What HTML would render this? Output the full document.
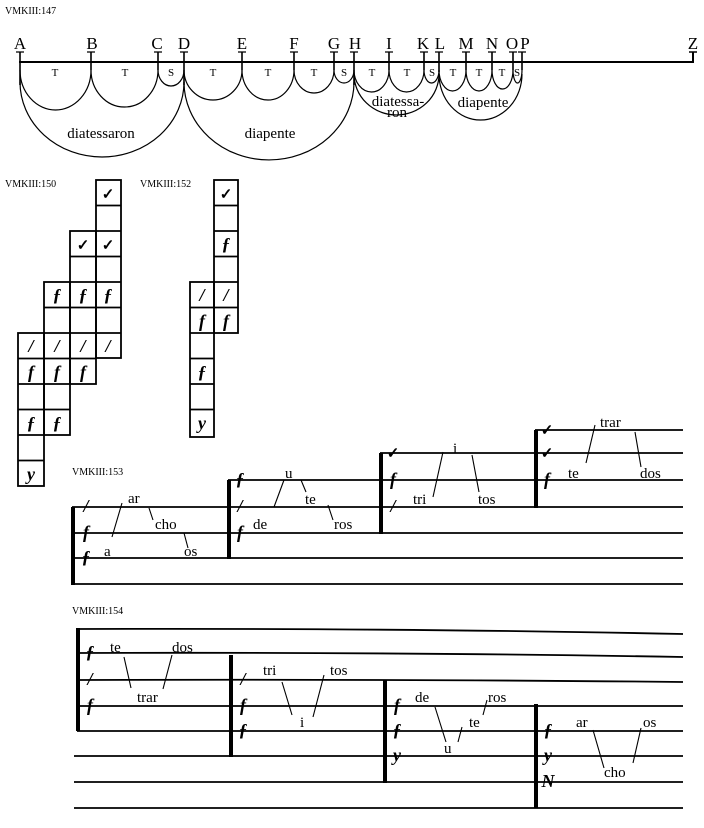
<!DOCTYPE html>
<html><head><meta charset="utf-8"><style>
html,body{margin:0;padding:0;background:#fff;}
svg{display:block;}
text{font-family:"Liberation Serif",serif;fill:#000;}
.lab{font-size:10px;}
.L{font-size:17px;text-anchor:middle;}
.ts{font-size:11px;text-anchor:middle;}
.w{font-size:15px;}
.c{font-size:18px;font-style:italic;font-weight:bold;text-anchor:middle;}
.k{font-family:"DejaVu Sans",sans-serif;font-size:15px;font-weight:bold;text-anchor:middle;}
</style></head><body>
<svg width="704" height="828" viewBox="0 0 704 828" xmlns="http://www.w3.org/2000/svg">
<g stroke="#000" fill="none" stroke-width="1.2">
<line x1="19" y1="62" x2="693" y2="62" stroke-width="2"/>
<line x1="693" y1="52" x2="693" y2="63" stroke-width="2"/>
<line x1="689" y1="52" x2="697" y2="52" stroke-width="1.5"/>
<g stroke-width="1.6">
<path d="M20 52V85M91 52V70M158 52V70M184 52V85M242 52V70M294 52V70M334 52V70M354 52V85M389 52V70M424 52V70M439 52V72M466 52V70M492 52V70M513 52V70M522 52V70"/>
<path d="M16 52h8M87 52h8M154 52h8M180 52h8M238 52h8M290 52h8M330 52h8M350 52h8M385 52h8M420 52h8M435 52h8M462 52h8M488 52h8M509 52h8M518 52h8" stroke-width="1.3"/>
</g>
<path d="M20 70A35.5 40 0 0 0 91 70"/>
<path d="M91 70A33.5 37 0 0 0 158 70"/>
<path d="M158 70A13 16 0 0 0 184 70"/>
<path d="M184 70A29 30 0 0 0 242 70"/>
<path d="M242 70A26 30 0 0 0 294 70"/>
<path d="M294 70A20 23 0 0 0 334 70"/>
<path d="M334 70A10 13 0 0 0 354 70"/>
<path d="M354 70A17.5 22 0 0 0 389 70"/>
<path d="M389 70A17.5 22 0 0 0 424 70"/>
<path d="M424 70A7.5 13 0 0 0 439 70"/>
<path d="M439 70A13.5 21 0 0 0 466 70"/>
<path d="M466 70A13 21 0 0 0 492 70"/>
<path d="M492 70A10.5 19 0 0 0 513 70"/>
<path d="M513 70A4.5 13 0 0 0 522 70"/>
<path d="M20 82A82 75 0 0 0 184 82"/>
<path d="M184 82A85 78 0 0 0 354 82"/>
<path d="M354 74A42.5 41 0 0 0 439 74"/>
<path d="M439 74A41.5 46 0 0 0 522 74"/>
</g>
<text class="lab" x="5" y="14">VMKIII:147</text>
<g class="L">
<text x="20" y="49">A</text><text x="92" y="49">B</text><text x="157" y="49">C</text><text x="184" y="49">D</text><text x="242" y="49">E</text><text x="294" y="49">F</text><text x="334" y="49">G</text><text x="355" y="49">H</text><text x="389" y="49">I</text><text x="423" y="49">K</text><text x="440" y="49">L</text><text x="466" y="49">M</text><text x="492" y="49">N</text><text x="512" y="49">O</text><text x="525" y="49">P</text><text x="693" y="49">Z</text>
</g>
<g class="ts">
<text x="55" y="76">T</text><text x="125" y="76">T</text><text x="171" y="76">S</text><text x="213" y="76">T</text><text x="268" y="76">T</text><text x="314" y="76">T</text><text x="344" y="76">S</text><text x="372" y="76">T</text><text x="407" y="76">T</text><text x="432" y="76">S</text><text x="453" y="76">T</text><text x="479" y="76">T</text><text x="502" y="76">T</text><text x="517" y="76">S</text>
</g>
<text class="w" x="101" y="138" text-anchor="middle">diatessaron</text>
<text class="w" x="270" y="138" text-anchor="middle">diapente</text>
<text class="w" x="398" y="106" text-anchor="middle">diatessa-</text>
<text class="w" x="397" y="117" text-anchor="middle">ron</text>
<text class="w" x="483" y="107" text-anchor="middle">diapente</text>

<text class="lab" x="5" y="187">VMKIII:150</text>
<g stroke="#000" fill="none" stroke-width="1.8">
<rect x="96" y="180" width="25" height="178"/>
<path d="M96 205.5h25M96 231h25M96 256.5h25M96 282h25M96 307.5h25M96 333h25"/>
<rect x="70" y="231" width="26" height="153"/>
<path d="M70 256.5h26M70 282h26M70 307.5h26M70 333h26M70 358.5h26"/>
<rect x="44" y="282" width="26" height="153"/>
<path d="M44 307.5h26M44 333h26M44 358.5h26M44 384h26M44 409.5h26"/>
<rect x="18" y="333" width="26" height="153"/>
<path d="M18 358.5h26M18 384h26M18 409.5h26M18 435h26M18 460.5h26"/>
</g>
<g class="k"><text x="108" y="199">✓</text><text x="108" y="250">✓</text><text x="83" y="250">✓</text></g>
<g class="c">
<text x="108" y="301">ƒ</text><text x="108" y="352">/</text>
<text x="83" y="301">ƒ</text><text x="83" y="352">/</text><text x="83" y="378">f</text>
<text x="57" y="301">ƒ</text><text x="57" y="352">/</text><text x="57" y="378">f</text><text x="57" y="429">ƒ</text>
<text x="31" y="352">/</text><text x="31" y="378">f</text><text x="31" y="429">ƒ</text><text x="31" y="480">y</text>
</g>
<text class="lab" x="140" y="187">VMKIII:152</text>
<g stroke="#000" fill="none" stroke-width="1.8">
<rect x="214" y="180" width="24" height="153"/>
<path d="M214 205.5h24M214 231h24M214 256.5h24M214 282h24M214 307.5h24"/>
<rect x="190" y="282" width="24" height="155"/>
<path d="M190 307.5h24M190 333h24M190 358.5h24M190 384h24M190 409.5h24"/>
</g>
<g class="k"><text x="226" y="199">✓</text></g>
<g class="c">
<text x="226" y="250">ƒ</text><text x="226" y="301">/</text><text x="226" y="327">f</text>
<text x="202" y="301">/</text><text x="202" y="327">f</text><text x="202" y="378">ƒ</text><text x="202" y="429">y</text>
</g>

<text class="lab" x="72" y="475">VMKIII:153</text>
<g stroke="#000" fill="none">
<path d="M72 584H683M72 558H683M72 533H683M72 507H683M228 480H683M380 453H683M535 430H683" stroke-width="1.8"/>
<path d="M73 507V585M229 480V559M381 453V534M536 430V508" stroke-width="4"/>
<g stroke-width="1.1">
<path d="M112 537L122 503M149 508L153 520M184 533L188 548"/>
<path d="M274 507L284 480M301 480L306 492M328 505L333 520"/>
<path d="M433 497L443 452M472 455L479 492"/>
<path d="M586 463L595 425M635 432L641 467"/>
</g>
</g>
<g class="w">
<text x="128" y="503">ar</text><text x="155" y="529">cho</text><text x="104" y="556">a</text><text x="184" y="556">os</text>
<text x="285" y="478">u</text><text x="305" y="504">te</text><text x="253" y="529">de</text><text x="334" y="529">ros</text>
<text x="453" y="453">i</text><text x="413" y="504">tri</text><text x="478" y="504">tos</text>
<text x="600" y="427">trar</text><text x="568" y="478">te</text><text x="640" y="478">dos</text>
</g>
<g class="k"><text x="393" y="458">✓</text><text x="547" y="435">✓</text><text x="547" y="458">✓</text></g>
<g class="c">
<text x="86" y="512">/</text><text x="86" y="538">f</text><text x="86" y="563">ƒ</text>
<text x="240" y="485">ƒ</text><text x="240" y="512">/</text><text x="240" y="538">f</text>
<text x="393" y="485">f</text><text x="393" y="512">/</text>
<text x="547" y="485">f</text>
</g>

<text class="lab" x="72" y="614">VMKIII:154</text>
<g stroke="#000" fill="none">
<path d="M77 629Q400 628 683 634M77 653Q400 652 683 657M77 680Q400 679 683 682M77 706H683M77 731H683M74 756H683M74 782H683M74 808H683" stroke-width="1.8"/>
<path d="M78 628V731M231 655V757M385 680V783M536 704V808" stroke-width="4"/>
<g stroke-width="1.1">
<path d="M124 657L131 688M172 655L163 689"/>
<path d="M282 682L292 715M324 675L313 717"/>
<path d="M435 707L446 742M462 727L458 742M487 700L483 715"/>
<path d="M593 730L604 768M641 728L633 763"/>
</g>
</g>
<g class="w">
<text x="110" y="652">te</text><text x="172" y="652">dos</text><text x="137" y="702">trar</text>
<text x="263" y="675">tri</text><text x="330" y="675">tos</text><text x="300" y="727">i</text>
<text x="415" y="702">de</text><text x="488" y="702">ros</text><text x="469" y="727">te</text><text x="444" y="753">u</text>
<text x="576" y="727">ar</text><text x="643" y="727">os</text><text x="604" y="777">cho</text>
</g>
<g class="c">
<text x="90" y="658">ƒ</text><text x="90" y="685">/</text><text x="90" y="711">f</text>
<text x="243" y="685">/</text><text x="243" y="711">f</text><text x="243" y="736">ƒ</text>
<text x="397" y="711">f</text><text x="397" y="736">ƒ</text><text x="397" y="761">y</text>
<text x="548" y="736">ƒ</text><text x="548" y="761">y</text><text x="548" y="787">N</text>
</g>
</svg>
</body></html>
